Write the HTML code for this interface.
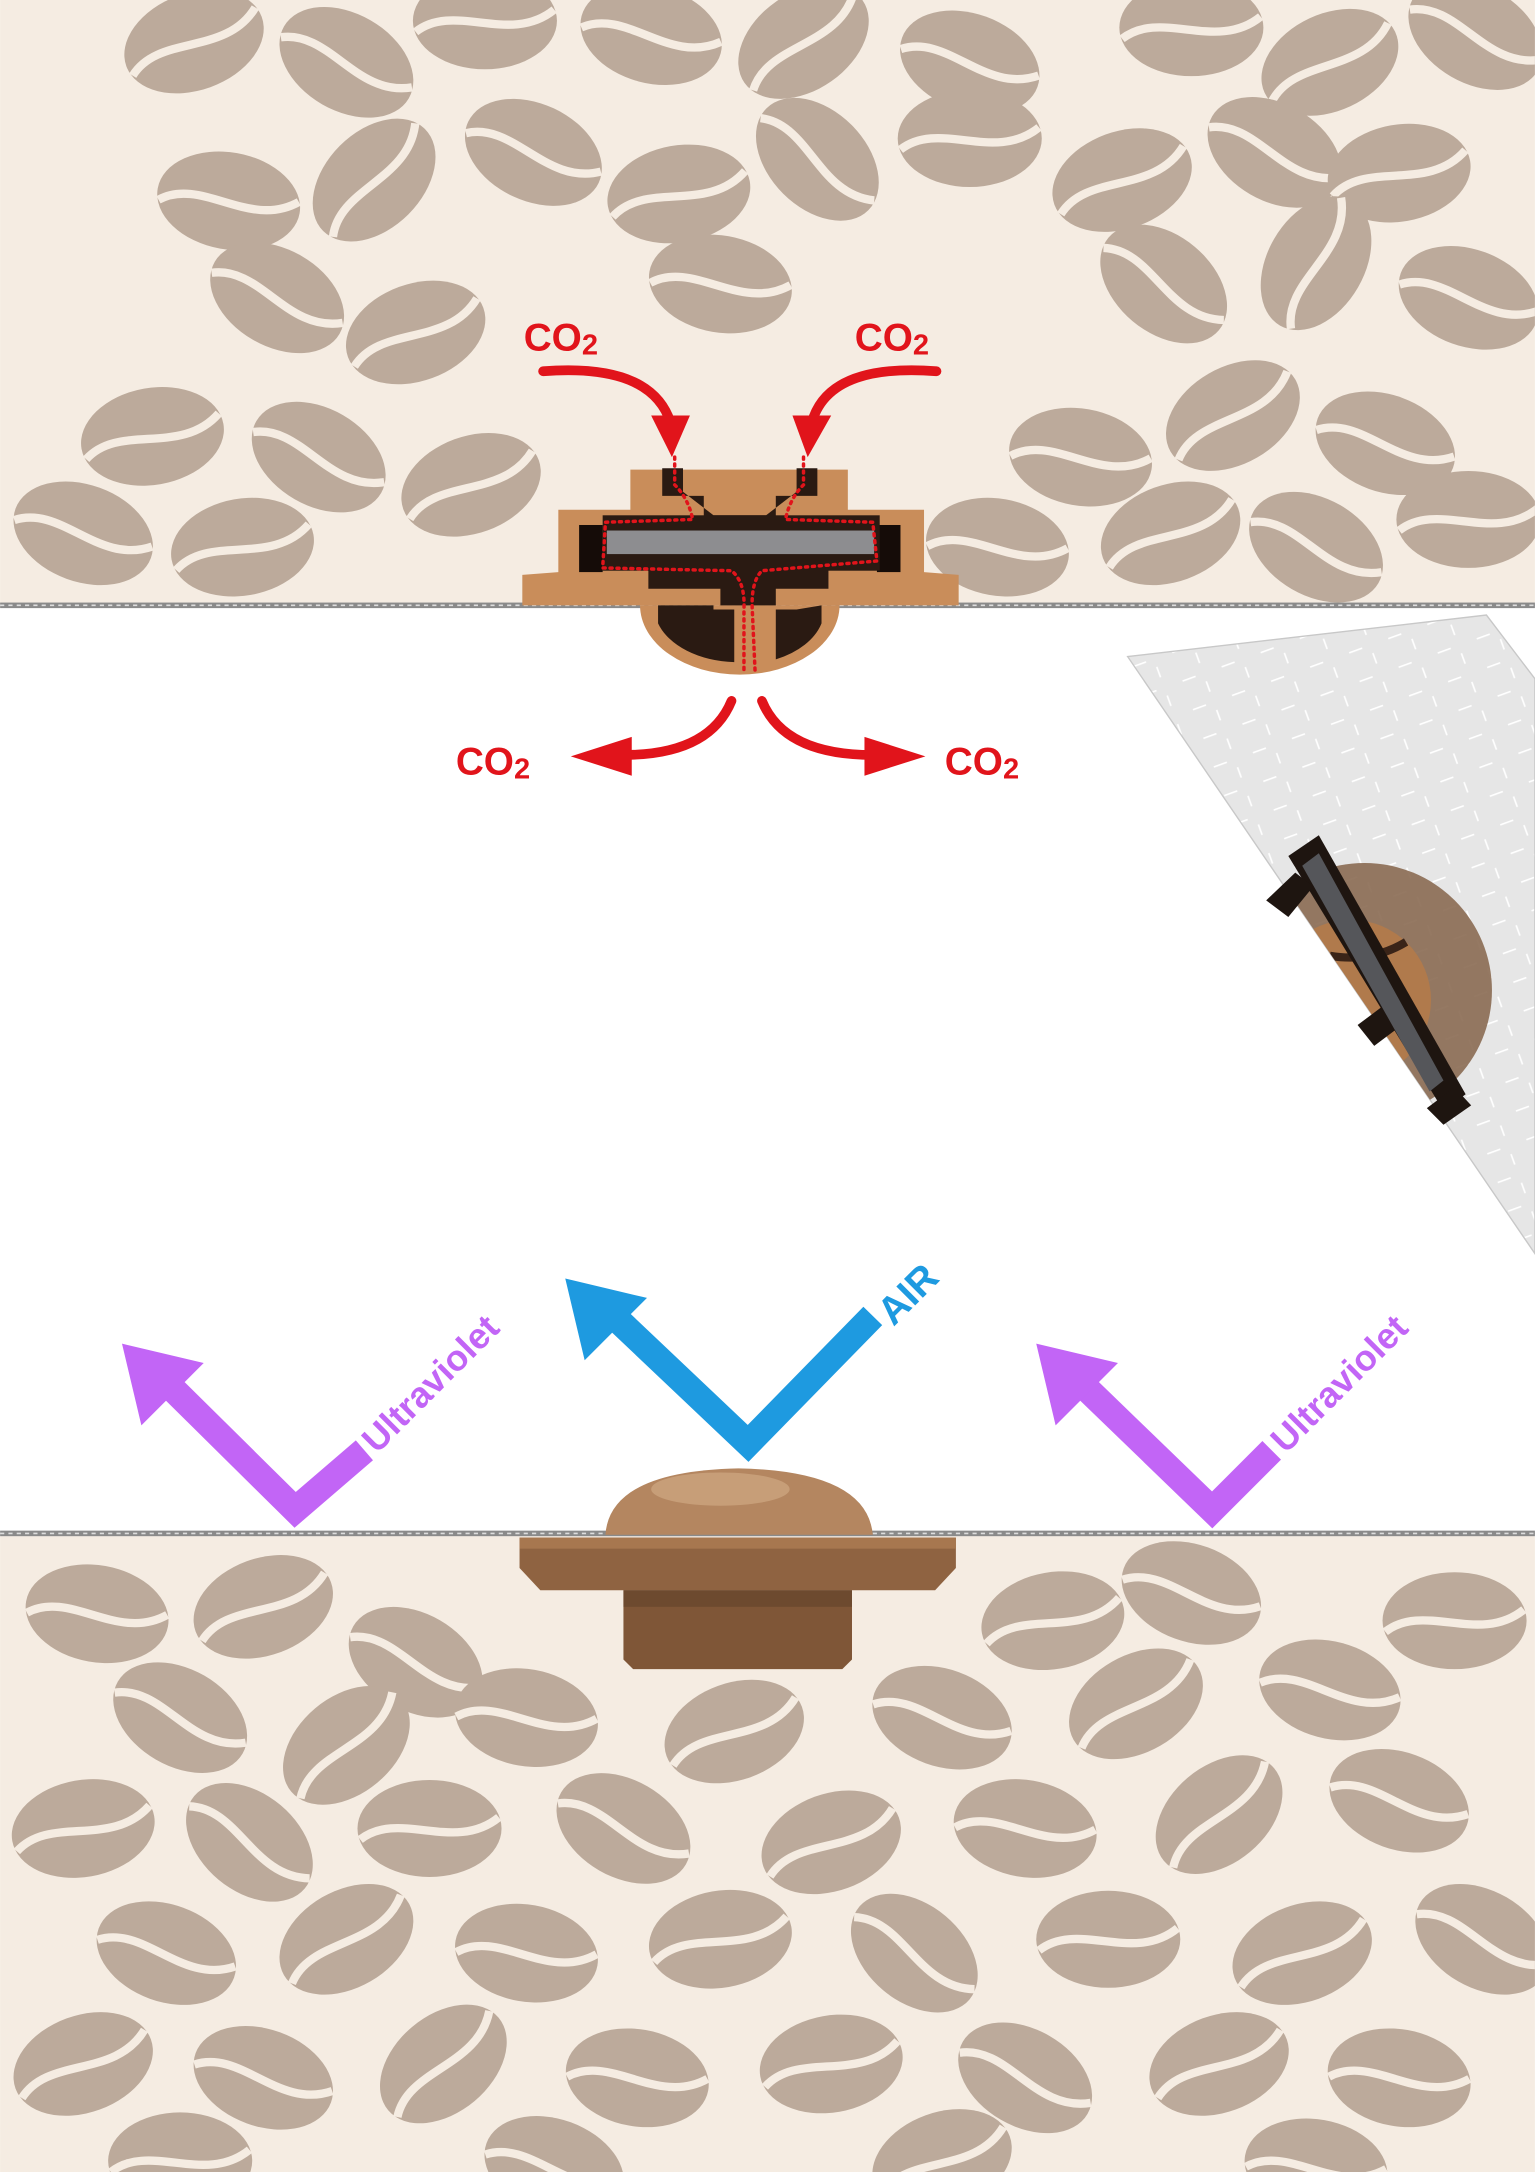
<!DOCTYPE html>
<html><head><meta charset="utf-8"><style>
html,body{margin:0;padding:0;background:#fff;}
svg{display:block;}
text{font-family:"Liberation Sans",Arial,sans-serif;font-weight:bold;}
</style></head><body>
<svg width="1535" height="2172" viewBox="0 0 1108 1568" xmlns="http://www.w3.org/2000/svg">
<defs>
<symbol id="bean" viewBox="-55 -40 110 80" overflow="visible">
<ellipse cx="0" cy="0" rx="52" ry="35" fill="#bcaa9b"/>
<path d="M-50,8 C-22,-14 18,18 50,-8" stroke="#f5ece2" stroke-width="6" fill="none"/>
</symbol>
<clipPath id="topc"><rect x="0" y="0" width="1108" height="437"/></clipPath>
<clipPath id="botc"><rect x="0" y="1109" width="1108" height="460"/></clipPath>
<clipPath id="stripc"><polygon points="814,474 1073,444 1108,490 1108,905"/></clipPath>
<pattern id="dash" width="30" height="22" patternUnits="userSpaceOnUse" patternTransform="rotate(-20)">
<rect width="30" height="22" fill="#e6e6e6"/>
<line x1="4" y1="6" x2="14" y2="6" stroke="#fff" stroke-width="1.2"/>
<line x1="20" y1="12" x2="20" y2="20" stroke="#fff" stroke-width="1.2"/>
</pattern>
</defs>
<rect x="0" y="0" width="1108" height="437" fill="#f5ece2"/>
<g clip-path="url(#topc)">
<use href="#bean" x="-55" y="-40" width="110" height="80" transform="translate(140,30) rotate(-20)"/>
<use href="#bean" x="-55" y="-40" width="110" height="80" transform="translate(250,45) rotate(30)"/>
<use href="#bean" x="-55" y="-40" width="110" height="80" transform="translate(350,15) rotate(0)"/>
<use href="#bean" x="-55" y="-40" width="110" height="80" transform="translate(470,25) rotate(15)"/>
<use href="#bean" x="-55" y="-40" width="110" height="80" transform="translate(580,30) rotate(-35)"/>
<use href="#bean" x="-55" y="-40" width="110" height="80" transform="translate(700,45) rotate(20)"/>
<use href="#bean" x="-55" y="-40" width="110" height="80" transform="translate(860,20) rotate(0)"/>
<use href="#bean" x="-55" y="-40" width="110" height="80" transform="translate(960,45) rotate(-25)"/>
<use href="#bean" x="-55" y="-40" width="110" height="80" transform="translate(1065,25) rotate(30)"/>
<use href="#bean" x="-55" y="-40" width="110" height="80" transform="translate(165,145) rotate(10)"/>
<use href="#bean" x="-55" y="-40" width="110" height="80" transform="translate(270,130) rotate(-45)"/>
<use href="#bean" x="-55" y="-40" width="110" height="80" transform="translate(385,110) rotate(25)"/>
<use href="#bean" x="-55" y="-40" width="110" height="80" transform="translate(490,140) rotate(-10)"/>
<use href="#bean" x="-55" y="-40" width="110" height="80" transform="translate(590,115) rotate(45)"/>
<use href="#bean" x="-55" y="-40" width="110" height="80" transform="translate(700,100) rotate(0)"/>
<use href="#bean" x="-55" y="-40" width="110" height="80" transform="translate(810,130) rotate(-20)"/>
<use href="#bean" x="-55" y="-40" width="110" height="80" transform="translate(920,110) rotate(30)"/>
<use href="#bean" x="-55" y="-40" width="110" height="80" transform="translate(1010,125) rotate(-10)"/>
<use href="#bean" x="-55" y="-40" width="110" height="80" transform="translate(200,215) rotate(30)"/>
<use href="#bean" x="-55" y="-40" width="110" height="80" transform="translate(300,240) rotate(-20)"/>
<use href="#bean" x="-55" y="-40" width="110" height="80" transform="translate(520,205) rotate(10)"/>
<use href="#bean" x="-55" y="-40" width="110" height="80" transform="translate(840,205) rotate(40)"/>
<use href="#bean" x="-55" y="-40" width="110" height="80" transform="translate(950,190) rotate(-60)"/>
<use href="#bean" x="-55" y="-40" width="110" height="80" transform="translate(1060,215) rotate(20)"/>
<use href="#bean" x="-55" y="-40" width="110" height="80" transform="translate(110,315) rotate(-10)"/>
<use href="#bean" x="-55" y="-40" width="110" height="80" transform="translate(230,330) rotate(30)"/>
<use href="#bean" x="-55" y="-40" width="110" height="80" transform="translate(340,350) rotate(-20)"/>
<use href="#bean" x="-55" y="-40" width="110" height="80" transform="translate(780,330) rotate(10)"/>
<use href="#bean" x="-55" y="-40" width="110" height="80" transform="translate(890,300) rotate(-30)"/>
<use href="#bean" x="-55" y="-40" width="110" height="80" transform="translate(1000,320) rotate(20)"/>
<use href="#bean" x="-55" y="-40" width="110" height="80" transform="translate(60,385) rotate(20)"/>
<use href="#bean" x="-55" y="-40" width="110" height="80" transform="translate(175,395) rotate(-10)"/>
<use href="#bean" x="-55" y="-40" width="110" height="80" transform="translate(720,395) rotate(10)"/>
<use href="#bean" x="-55" y="-40" width="110" height="80" transform="translate(845,385) rotate(-20)"/>
<use href="#bean" x="-55" y="-40" width="110" height="80" transform="translate(950,395) rotate(30)"/>
<use href="#bean" x="-55" y="-40" width="110" height="80" transform="translate(1060,375) rotate(0)"/>
</g>
<rect x="0" y="1109" width="1108" height="460" fill="#f5ece2"/>
<g clip-path="url(#botc)">
<use href="#bean" x="-55" y="-40" width="110" height="80" transform="translate(70,1165) rotate(10)"/>
<use href="#bean" x="-55" y="-40" width="110" height="80" transform="translate(190,1160) rotate(-20)"/>
<use href="#bean" x="-55" y="-40" width="110" height="80" transform="translate(300,1200) rotate(30)"/>
<use href="#bean" x="-55" y="-40" width="110" height="80" transform="translate(760,1170) rotate(-10)"/>
<use href="#bean" x="-55" y="-40" width="110" height="80" transform="translate(860,1150) rotate(20)"/>
<use href="#bean" x="-55" y="-40" width="110" height="80" transform="translate(1050,1170) rotate(0)"/>
<use href="#bean" x="-55" y="-40" width="110" height="80" transform="translate(130,1240) rotate(30)"/>
<use href="#bean" x="-55" y="-40" width="110" height="80" transform="translate(250,1260) rotate(-40)"/>
<use href="#bean" x="-55" y="-40" width="110" height="80" transform="translate(380,1240) rotate(10)"/>
<use href="#bean" x="-55" y="-40" width="110" height="80" transform="translate(530,1250) rotate(-20)"/>
<use href="#bean" x="-55" y="-40" width="110" height="80" transform="translate(680,1240) rotate(20)"/>
<use href="#bean" x="-55" y="-40" width="110" height="80" transform="translate(820,1230) rotate(-30)"/>
<use href="#bean" x="-55" y="-40" width="110" height="80" transform="translate(960,1220) rotate(15)"/>
<use href="#bean" x="-55" y="-40" width="110" height="80" transform="translate(60,1320) rotate(-10)"/>
<use href="#bean" x="-55" y="-40" width="110" height="80" transform="translate(180,1330) rotate(40)"/>
<use href="#bean" x="-55" y="-40" width="110" height="80" transform="translate(310,1320) rotate(0)"/>
<use href="#bean" x="-55" y="-40" width="110" height="80" transform="translate(450,1320) rotate(30)"/>
<use href="#bean" x="-55" y="-40" width="110" height="80" transform="translate(600,1330) rotate(-20)"/>
<use href="#bean" x="-55" y="-40" width="110" height="80" transform="translate(740,1320) rotate(10)"/>
<use href="#bean" x="-55" y="-40" width="110" height="80" transform="translate(880,1310) rotate(-40)"/>
<use href="#bean" x="-55" y="-40" width="110" height="80" transform="translate(1010,1300) rotate(20)"/>
<use href="#bean" x="-55" y="-40" width="110" height="80" transform="translate(120,1410) rotate(20)"/>
<use href="#bean" x="-55" y="-40" width="110" height="80" transform="translate(250,1400) rotate(-30)"/>
<use href="#bean" x="-55" y="-40" width="110" height="80" transform="translate(380,1410) rotate(10)"/>
<use href="#bean" x="-55" y="-40" width="110" height="80" transform="translate(520,1400) rotate(-10)"/>
<use href="#bean" x="-55" y="-40" width="110" height="80" transform="translate(660,1410) rotate(40)"/>
<use href="#bean" x="-55" y="-40" width="110" height="80" transform="translate(800,1400) rotate(0)"/>
<use href="#bean" x="-55" y="-40" width="110" height="80" transform="translate(940,1410) rotate(-20)"/>
<use href="#bean" x="-55" y="-40" width="110" height="80" transform="translate(1070,1400) rotate(30)"/>
<use href="#bean" x="-55" y="-40" width="110" height="80" transform="translate(60,1490) rotate(-20)"/>
<use href="#bean" x="-55" y="-40" width="110" height="80" transform="translate(190,1500) rotate(20)"/>
<use href="#bean" x="-55" y="-40" width="110" height="80" transform="translate(320,1490) rotate(-40)"/>
<use href="#bean" x="-55" y="-40" width="110" height="80" transform="translate(460,1500) rotate(10)"/>
<use href="#bean" x="-55" y="-40" width="110" height="80" transform="translate(600,1490) rotate(-10)"/>
<use href="#bean" x="-55" y="-40" width="110" height="80" transform="translate(740,1500) rotate(30)"/>
<use href="#bean" x="-55" y="-40" width="110" height="80" transform="translate(880,1490) rotate(-20)"/>
<use href="#bean" x="-55" y="-40" width="110" height="80" transform="translate(1010,1500) rotate(10)"/>
<use href="#bean" x="-55" y="-40" width="110" height="80" transform="translate(130,1560) rotate(0)"/>
<use href="#bean" x="-55" y="-40" width="110" height="80" transform="translate(400,1565) rotate(20)"/>
<use href="#bean" x="-55" y="-40" width="110" height="80" transform="translate(680,1560) rotate(-20)"/>
<use href="#bean" x="-55" y="-40" width="110" height="80" transform="translate(950,1565) rotate(10)"/>
</g>
<rect x="0" y="435" width="1108" height="4" fill="#8a8a8a"/>
<line x1="0" y1="437" x2="1108" y2="437" stroke="#ddd" stroke-width="1.2" stroke-dasharray="3 3"/>
<rect x="0" y="1105" width="1108" height="4" fill="#8a8a8a"/>
<line x1="0" y1="1107" x2="1108" y2="1107" stroke="#ddd" stroke-width="1.2" stroke-dasharray="3 3"/>

<!-- top valve -->
<g>
<path d="M377,437 L377,415 L403,413 L403,368 L455,368 L455,339 L612,339 L612,368 L667,368 L667,413 L692,415 L692,437 Z" fill="#c98d5a"/>
<path d="M462,437 A72,50 0 0 0 606,437 Z" fill="#c98d5a"/>
<path d="M475,437 L475,450 A60,40 0 0 0 530,478 L530,440 L515,440 L515,437 Z" fill="#2a1a12"/>
<path d="M593,437 L593,450 A60,40 0 0 1 560,476 L560,440 L575,440 Z" fill="#2a1a12"/>
<path d="M478,338 L478,358 L508,358 L508,390 L560,390 L560,358 L590,358 L590,338 L575,338 L575,355 L553,372 L515,372 L493,355 L493,338 Z" fill="#2a1a12"/>
<rect x="418" y="379" width="17" height="34" fill="#150c08"/>
<rect x="633" y="379" width="17" height="34" fill="#150c08"/>
<rect x="435" y="372" width="200" height="40" fill="#2a1a12"/>
<rect x="438" y="383" width="193" height="17" fill="#8d8d90"/>
<path d="M468,410 L598,410 L598,425 L560,425 L560,437 L520,437 L520,425 L468,425 Z" fill="#2a1a12"/>
<g fill="none" stroke="#e1141b" stroke-width="2.5" stroke-dasharray="1.5 3.5" stroke-linecap="round">
<path d="M487,330 L487,350 Q497,360 500,375 L437,377 L435,410 L528,412 Q538,420 537,440 L537,484"/>
<path d="M580,330 L580,350 Q570,360 567,375 L630,377 L633,405 L550,412 Q542,420 543,440 L545,484"/>
</g>
</g>

<g fill="#e1141b">
<text x="378" y="253" font-size="28">CO<tspan font-size="21" dy="3">2</tspan></text>
<text x="617" y="253" font-size="28">CO<tspan font-size="21" dy="3">2</tspan></text>
<text x="329" y="559" font-size="28">CO<tspan font-size="21" dy="3">2</tspan></text>
<text x="682" y="559" font-size="28">CO<tspan font-size="21" dy="3">2</tspan></text>
</g>
<g fill="none" stroke="#e1141b" stroke-width="7" stroke-linecap="round">
<path d="M392,268 Q470,262 484,305"/>
<path d="M676,268 Q598,262 586,305"/>
<path d="M528,506 Q512,545 450,545"/>
<path d="M550,506 Q566,545 630,545"/>
</g>
<g fill="#e1141b">
<polygon points="470,300 498,300 485,330"/>
<polygon points="572,300 600,300 583,330"/>
<polygon points="456,532 456,560 412,546"/>
<polygon points="624,532 624,560 668,546"/>
</g>

<!-- diagonal strip -->
<polygon points="814,474 1073,444 1108,490 1108,905" fill="url(#dash)" stroke="#c8c8c8"/>
<g clip-path="url(#stripc)">
<circle cx="985" cy="715" r="92" fill="#8a6a52" opacity="0.9"/>
<circle cx="975" cy="722" r="58" fill="#b07a4c"/>
<path d="M960,690 Q990,695 1015,680" stroke="#3a2418" stroke-width="6" fill="none"/>
</g>
<polygon points="930,618 952,603 1058,790 1042,802" fill="#1e1510"/>
<polygon points="914,650 935,630 948,640 930,662" fill="#1e1510"/>
<polygon points="980,740 1000,725 1012,740 992,755" fill="#1e1510"/>
<polygon points="1030,800 1050,785 1062,798 1042,812" fill="#1e1510"/>
<polygon points="940,625 952,616 1042,780 1032,788" fill="#55565a"/>

<!-- Arrows -->
<g fill="none" stroke-width="19" stroke-linejoin="miter">
<polyline points="263,1047 213,1090 125,1003" stroke="#c265f6"/>
<polyline points="630,950 540,1042 445,952" stroke="#1e9ae0"/>
<polyline points="918,1047 875,1090 785,1003" stroke="#c265f6"/>
</g>
<polygon points="88,970 147,984 102,1029" fill="#c265f6"/>
<polygon points="408,923 467,937 422,982" fill="#1e9ae0"/>
<polygon points="748,970 807,984 762,1029" fill="#c265f6"/>
<text transform="translate(272,1050) rotate(-45)" font-size="26" fill="#c265f6">Ultraviolet</text>
<text transform="translate(645,958) rotate(-45)" font-size="28" fill="#1e9ae0">AIR</text>
<text transform="translate(928,1050) rotate(-45)" font-size="26" fill="#c265f6">Ultraviolet</text>

<!-- bottom dome valve -->
<path d="M437,1108 Q440,1062 533,1060 Q626,1062 630,1108 Z" fill="#b48660"/>
<ellipse cx="520" cy="1075" rx="50" ry="12" fill="#cfa883" opacity="0.7"/>
<path d="M375,1110 L690,1110 L690,1132 L675,1148 L390,1148 L375,1132 Z" fill="#8f6341"/>
<rect x="375" y="1110" width="315" height="8" fill="#a7774f"/>
<path d="M450,1148 L615,1148 L615,1198 L608,1205 L457,1205 L450,1198 Z" fill="#7f5637"/>
<rect x="450" y="1148" width="165" height="12" fill="#6d4a2f"/>
</svg>
</body></html>
